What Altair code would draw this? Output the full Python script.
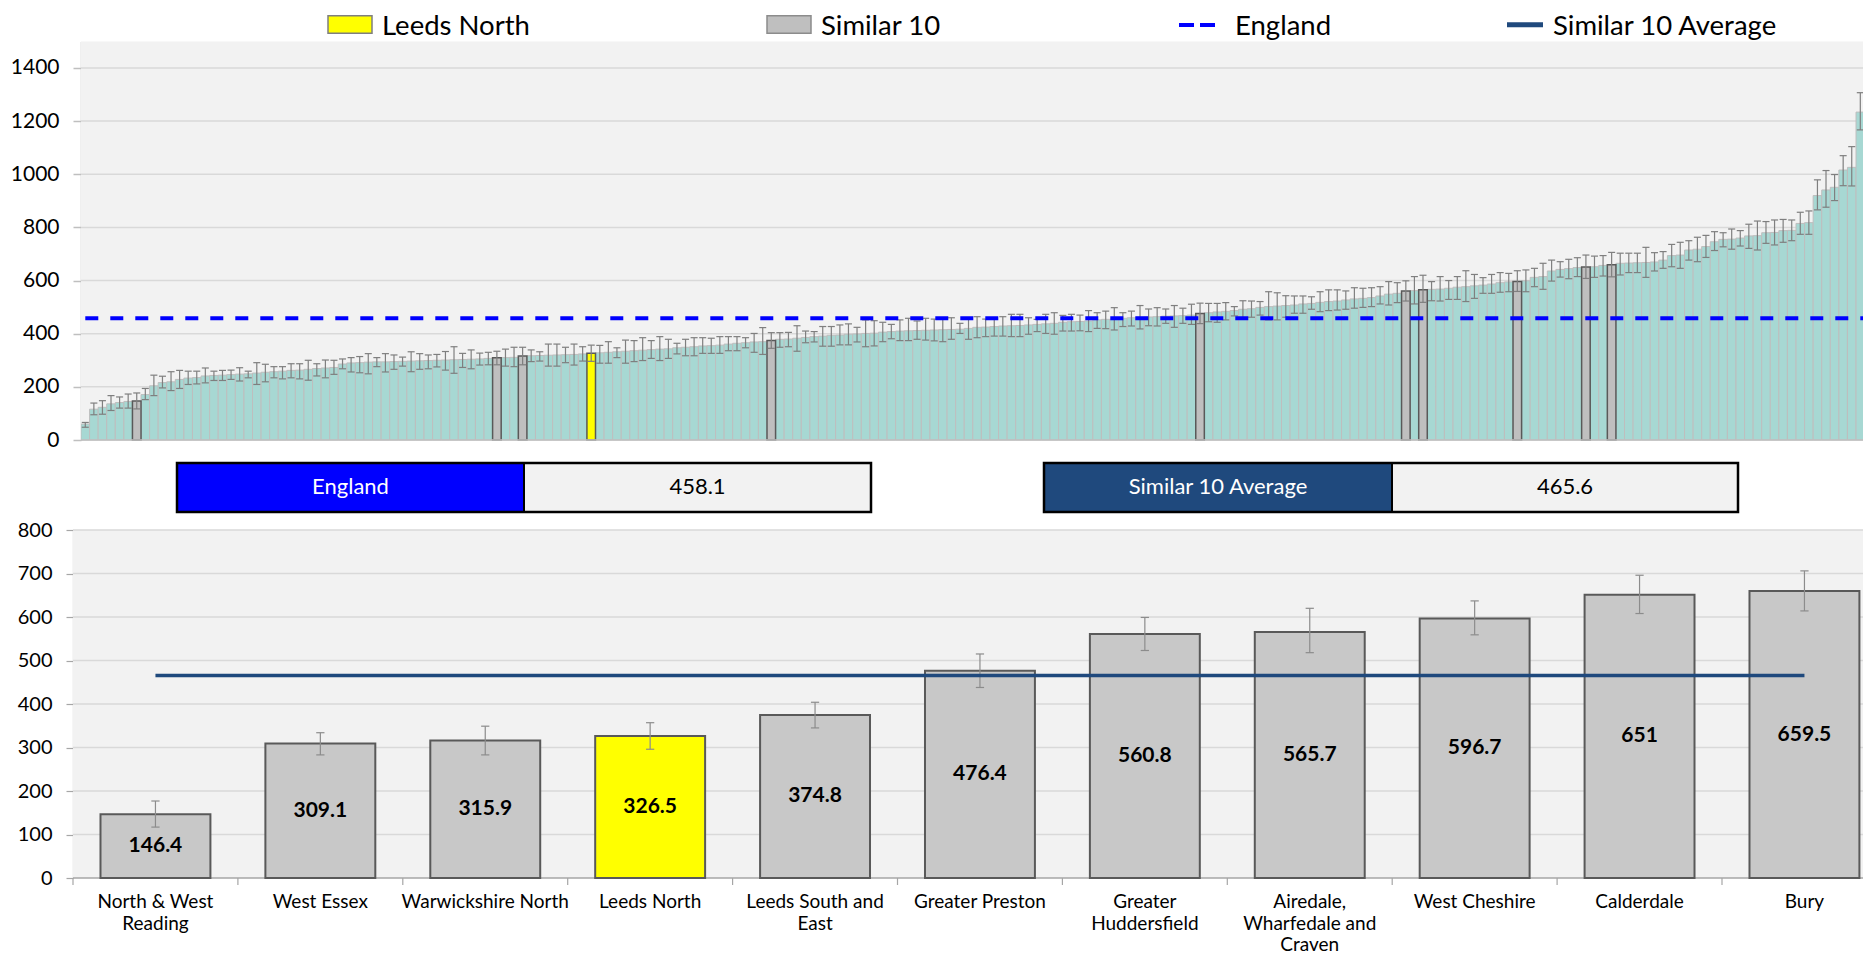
import textwrap
import altair as alt
import pandas as pd

# ------------------------------------------------------------------ data
# all CCGs, sorted ascending (rate per 100,000) with 95% CI
ccg_rates = [60, 116, 123, 136, 141, 145, 146.4, 171, 204, 216, 219, 228, 233, 235, 241, 243, 244, 246, 248, 249,
             252, 255, 257, 259, 262, 263, 266, 269, 271, 273, 286, 290, 291, 293, 294, 294, 295, 296, 297, 298,
             299, 300, 301, 302, 303, 304, 305, 307, 309.1, 310, 311, 315.9, 317, 318, 319, 320, 321, 322, 324, 326.5,
             328, 330, 332, 334, 336, 338, 340, 342, 343, 347, 349, 351, 354, 355, 357, 361, 364, 366, 369, 370,
             374.8, 379, 380, 383, 386, 389, 391, 394, 395, 398, 399, 401, 402, 406, 408, 410, 411, 412, 413, 414,
             415, 416, 417, 420, 424, 425, 427, 429, 430, 431, 433, 435, 437, 439, 443, 445, 446, 448, 452, 454,
             455, 458, 460, 462, 463, 464, 466, 467, 468, 470, 476.4, 479, 482, 484, 487, 492, 494, 499, 502, 504,
             506, 508, 512, 514, 518, 521, 523, 527, 531, 533, 536, 542, 549, 552, 560.8, 562, 565.7, 567, 568, 571,
             575, 577, 580, 583, 587, 592, 595, 596.7, 599, 612, 615, 636, 642, 645, 649, 651, 652, 657, 659.5, 665,
             666, 667, 668, 670, 677, 694, 696, 715, 718, 728, 746, 755, 756, 760, 768, 769, 780, 781, 788, 789,
             815, 818, 920, 941, 951, 1016, 1026, 1234, 1245]
ccg_lower = [48, 95, 97, 111, 120, 120, 117, 152, 167, 196, 186, 194, 209, 211, 215, 224, 224, 228, 222, 234,
             209, 219, 234, 230, 234, 230, 225, 241, 234, 247, 268, 256, 253, 249, 276, 256, 266, 278, 257, 266,
             268, 275, 263, 251, 273, 268, 282, 283, 283, 278, 276, 283, 295, 297, 278, 278, 291, 282, 297, 296,
             289, 289, 310, 289, 295, 299, 307, 299, 307, 324, 317, 317, 326, 326, 326, 336, 336, 347, 330, 322,
             345, 349, 351, 334, 366, 369, 353, 353, 358, 358, 369, 351, 354, 370, 381, 374, 374, 379, 376, 373,
             370, 379, 401, 379, 385, 389, 391, 391, 389, 389, 398, 408, 401, 398, 410, 410, 411, 408, 420, 419,
             414, 427, 429, 418, 430, 429, 439, 424, 439, 435, 438, 445, 443, 452, 467, 454, 462, 470, 452, 452,
             462, 477, 477, 492, 483, 487, 489, 492, 496, 499, 502, 512, 508, 517, 523, 512, 518, 524, 523, 529,
             529, 521, 533, 552, 552, 556, 558, 559, 558, 577, 567, 598, 613, 607, 615, 608, 612, 617, 614, 621,
             630, 630, 612, 636, 646, 652, 646, 677, 671, 687, 713, 727, 718, 730, 721, 715, 740, 734, 744, 750,
             774, 774, 866, 876, 901, 957, 956, 1167, 1207]
ccg_upper = [66, 139, 148, 167, 162, 173, 177, 194, 244, 240, 257, 262, 259, 259, 271, 259, 262, 263, 272, 259,
             291, 285, 276, 276, 287, 287, 300, 287, 301, 300, 305, 310, 314, 325, 310, 325, 320, 312, 332, 325,
             320, 322, 333, 351, 326, 339, 327, 330, 334, 342, 349, 349, 339, 332, 361, 361, 349, 361, 351, 357,
             356, 370, 347, 376, 374, 385, 374, 389, 379, 364, 379, 385, 385, 383, 389, 389, 389, 385, 401, 423,
             404, 404, 405, 430, 410, 408, 427, 427, 433, 437, 424, 452, 449, 443, 435, 452, 458, 448, 458, 455,
             455, 460, 439, 455, 464, 455, 460, 464, 473, 473, 460, 454, 473, 479, 469, 473, 470, 487, 479, 485,
             498, 479, 485, 506, 493, 498, 493, 506, 496, 511, 515, 514, 514, 517, 502, 524, 523, 521, 558, 554,
             543, 542, 542, 539, 558, 565, 565, 561, 573, 571, 573, 577, 596, 592, 599, 615, 620, 596, 615, 600,
             615, 637, 623, 611, 623, 630, 627, 637, 640, 646, 665, 677, 671, 680, 686, 696, 692, 694, 706, 703,
             703, 703, 725, 705, 709, 736, 744, 750, 763, 770, 784, 780, 794, 788, 812, 824, 822, 828, 830, 828,
             857, 862, 979, 1014, 999, 1070, 1104, 1307, 1282]

# the focus CCG and its 10 most similar CCGs
similar_names = ["North & West Reading", "West Essex", "Warwickshire North", "Leeds North",
                 "Leeds South and East", "Greater Preston", "Greater Huddersfield",
                 "Airedale, Wharfedale and Craven", "West Cheshire", "Calderdale", "Bury"]
similar_rates = [146.4, 309.1, 315.9, 326.5, 374.8, 476.4, 560.8, 565.7, 596.7, 651, 659.5]
similar_lower = [117, 283, 283, 296, 345, 438, 523, 518, 559, 608, 614]
similar_upper = [177, 334, 349, 357, 404, 515, 599, 620, 637, 696, 706]
focus_name = "Leeds North"
england_rate = 458.1
similar_average = 465.6

top_ticks = [0, 200, 400, 600, 800, 1000, 1200, 1400]
bottom_ticks = [0, 100, 200, 300, 400, 500, 600, 700, 800]

# ------------------------------------------------------------------ style / layout
FONT = "Lato"
W, H = 1782, 947                 # plot area (page x 81 .. 1863)
BAR_PX = 8.575                   # pixel width of one CCG bar
TOP_Y0, TOP_Y1 = 432, 33.4       # pixel rows of 0 and 1500
BOT_Y0, BOT_Y1 = 870, 522        # pixel rows of 0 and 800
CAT_PX = 164.9                   # width of one category in the lower chart
BOT_X0 = -8

TEAL, TEAL_EDGE = "#A7D8D3", "#BEBEBE"
SIM_FILL, EDGE = "#BFBFBF", "#595959"
YELLOW = "#FFFF00"
ERR = "#7F7F7F"
GRID = "#D9D9D9"
BG = "#F2F2F2"
BLUE = "#0000FF"
NAVY = "#1F497D"

n = len(ccg_rates)
ns = len(similar_names)
focus_rate = similar_rates[similar_names.index(focus_name)]


def role(v):
    if v == focus_rate:
        return "focus"
    if v in similar_rates:
        return "similar"
    return "other"


top_df = pd.DataFrame({"rank": range(n), "rate": ccg_rates, "lo": ccg_lower, "hi": ccg_upper})
top_df["role"] = top_df["rate"].map(role)

bot_df = pd.DataFrame({"k": range(ns), "name": similar_names, "rate": similar_rates,
                       "lo": similar_lower, "hi": similar_upper})
bot_df["label"] = bot_df["name"].map(lambda s: "\n".join(textwrap.wrap(s, 18)))
bot_df["role"] = bot_df["rate"].map(role)
bot_df["txt"] = bot_df["rate"].map(lambda v: f"{v:g}")

one = pd.DataFrame({"k": [0]})

top_x = alt.Scale(domain=[0, W / BAR_PX], nice=False, zero=False)
top_y = alt.Scale(domain=[0, 1500], range=[TOP_Y0, TOP_Y1], nice=False, zero=False)
bot_x = alt.Scale(domain=[0, ns], range=[BOT_X0, BOT_X0 + ns * CAT_PX], nice=False, zero=False)
bot_y = alt.Scale(domain=[0, 800], range=[BOT_Y0, BOT_Y1], nice=False, zero=False)


def px_rect(x0, x1, y0, y1, **kw):
    return alt.Chart(one).mark_rect(**kw).encode(
        x=alt.value(x0), x2=alt.value(x1), y=alt.value(y0), y2=alt.value(y1))


def px_rule(x0, x1, y0, y1, **kw):
    return alt.Chart(one).mark_rule(**kw).encode(
        x=alt.value(x0), x2=alt.value(x1), y=alt.value(y0), y2=alt.value(y1))


def px_text(x, y, s, **kw):
    return alt.Chart(one).mark_text(font=FONT, **kw).encode(
        x=alt.value(x), y=alt.value(y), text=alt.value(s))


layers = []

# ---------------- legend
LY = 27.2          # text baseline
LFS = 27.5
layers += [
    px_rect(247, 291, 7.7, 25.3, fill=YELLOW, stroke="#7F7F7F", strokeWidth=1.5),
    px_text(301, LY, focus_name, fontSize=LFS, align="left", baseline="alphabetic", color="black"),
    px_rect(686, 730, 7.7, 25.3, fill=SIM_FILL, stroke="#8C8C8C", strokeWidth=1.5),
    px_text(740, LY, "Similar 10", fontSize=LFS, align="left", baseline="alphabetic", color="black"),
    px_rule(1098, 1136, 17, 17, color=BLUE, strokeWidth=4, strokeDash=[15, 6]),
    px_text(1154, LY, "England", fontSize=LFS, align="left", baseline="alphabetic", color="black"),
    px_rule(1426, 1462, 16.8, 16.8, color=NAVY, strokeWidth=5),
    px_text(1472, LY, "Similar 10 Average", fontSize=LFS, align="left", baseline="alphabetic", color="black"),
]

# ---------------- top chart
layers.append(px_rect(0, W, TOP_Y1, TOP_Y0, fill=BG))
layers.append(
    alt.Chart(pd.DataFrame({"v": top_ticks[1:]})).mark_rule(color=GRID, strokeWidth=1.5).encode(
        y=alt.Y("v:Q", scale=top_y, axis=alt.Axis(
            orient="left", values=top_ticks, format="d", title=None, grid=False,
            domainColor="#BFBFBF", domainWidth=1.5, tickColor="#BFBFBF", tickWidth=1.5, tickSize=8,
            labelFont=FONT, labelFontSize=21, labelColor="black", labelPadding=14)),
        x=alt.value(0), x2=alt.value(W)))

tb = alt.Chart(top_df).transform_calculate(r1="datum.rank + 1", xc="datum.rank + 0.5")
layers.append(
    tb.transform_filter("datum.role == 'other'")
    .mark_rect(fill=TEAL, stroke=TEAL_EDGE, strokeWidth=1, clip=True)
    .encode(x=alt.X("rank:Q", scale=top_x, axis=None), x2="r1:Q",
            y=alt.Y("rate:Q", scale=top_y, axis=None), y2=alt.Y2(datum=0)))
layers.append(
    tb.transform_filter("datum.role == 'similar'")
    .mark_rect(fill=SIM_FILL, stroke=EDGE, strokeWidth=1.5, clip=True)
    .encode(x=alt.X("rank:Q", scale=top_x, axis=None), x2="r1:Q",
            y=alt.Y("rate:Q", scale=top_y, axis=None), y2=alt.Y2(datum=0)))
layers.append(
    tb.transform_filter("datum.role == 'focus'")
    .mark_rect(fill=YELLOW, stroke=EDGE, strokeWidth=1.5, clip=True)
    .encode(x=alt.X("rank:Q", scale=top_x, axis=None), x2="r1:Q",
            y=alt.Y("rate:Q", scale=top_y, axis=None), y2=alt.Y2(datum=0)))
layers.append(
    tb.mark_rule(color=ERR, strokeWidth=1.2, clip=True)
    .encode(x=alt.X("xc:Q", scale=top_x, axis=None),
            y=alt.Y("lo:Q", scale=top_y, axis=None), y2="hi:Q"))
layers.append(
    tb.transform_fold(["lo", "hi"], as_=["end", "val"])
    .transform_calculate(c0="datum.rank + 0.5 - 0.41", c1="datum.rank + 0.5 + 0.41")
    .mark_rule(color=ERR, strokeWidth=1.2, clip=True)
    .encode(x=alt.X("c0:Q", scale=top_x, axis=None), x2="c1:Q",
            y=alt.Y("val:Q", scale=top_y, axis=None)))
layers.append(px_rule(0, W, TOP_Y0, TOP_Y0, color="#BFBFBF", strokeWidth=1.5))
layers.append(
    alt.Chart(pd.DataFrame({"rate": [england_rate], "a": [0.5], "b": [n - 0.5]}))
    .mark_rule(color=BLUE, strokeWidth=4, strokeDash=[13, 12], clip=True)
    .encode(x=alt.X("a:Q", scale=top_x, axis=None), x2="b:Q",
            y=alt.Y("rate:Q", scale=top_y, axis=None)))


# ---------------- summary boxes
def summary_box(x0, xm, x1, title, value, color):
    y0, y1 = 455, 504
    yc = 479
    return [
        px_rect(x0, xm, y0, y1, fill=color),
        px_rect(xm, x1, y0, y1, fill=BG),
        px_rect(x0, x1, y0, y1, fill=None, stroke="black", strokeWidth=2.5),
        px_rule(xm, xm, y0, y1, color="black", strokeWidth=2),
        px_text((x0 + xm) / 2, yc, title, fontSize=22, align="center", baseline="middle", color="white"),
        px_text((xm + x1) / 2, yc, f"{value:g}", fontSize=22, align="center", baseline="middle", color="black"),
    ]


layers += summary_box(96, 443, 790, "England", england_rate, BLUE)
layers += summary_box(963, 1311, 1657, "Similar 10 Average", similar_average, NAVY)

# ---------------- lower chart
layers.append(px_rect(BOT_X0, W, BOT_Y1, BOT_Y0, fill=BG))
layers.append(
    alt.Chart(pd.DataFrame({"v": bottom_ticks[1:]})).mark_rule(color=GRID, strokeWidth=1.5).encode(
        y=alt.Y("v:Q", scale=bot_y, axis=alt.Axis(
            orient="left", offset=8, values=bottom_ticks, format="d", title=None, grid=False,
            domainColor="#A6A6A6", domainWidth=1.2, tickColor="#A6A6A6", tickWidth=1.2, tickSize=7,
            labelFont=FONT, labelFontSize=20, labelColor="black", labelPadding=14)),
        x=alt.value(BOT_X0), x2=alt.value(W)))
layers.append(px_rule(BOT_X0, W, BOT_Y0, BOT_Y0, color="#A6A6A6", strokeWidth=1.5))
layers.append(
    alt.Chart(pd.DataFrame({"k": range(ns + 1)})).mark_rule(color="#A6A6A6", strokeWidth=1.2)
    .encode(x=alt.X("k:Q", scale=bot_x, axis=None), y=alt.value(BOT_Y0), y2=alt.value(BOT_Y0 + 7)))

bb = alt.Chart(bot_df).transform_calculate(
    b0="datum.k + 0.1667", b1="datum.k + 0.8333", xc="datum.k + 0.5",
    c0="datum.k + 0.5 - 0.025", c1="datum.k + 0.5 + 0.025", mid="datum.rate / 2")
layers.append(
    bb.transform_filter("datum.role != 'focus'")
    .mark_rect(fill="#C8C8C8", stroke=EDGE, strokeWidth=2)
    .encode(x=alt.X("b0:Q", scale=bot_x, axis=None), x2="b1:Q",
            y=alt.Y("rate:Q", scale=bot_y, axis=None), y2=alt.Y2(datum=0)))
layers.append(
    bb.transform_filter("datum.role == 'focus'")
    .mark_rect(fill=YELLOW, stroke=EDGE, strokeWidth=2)
    .encode(x=alt.X("b0:Q", scale=bot_x, axis=None), x2="b1:Q",
            y=alt.Y("rate:Q", scale=bot_y, axis=None), y2=alt.Y2(datum=0)))
layers.append(
    bb.mark_rule(color="#8C8C8C", strokeWidth=1.2)
    .encode(x=alt.X("xc:Q", scale=bot_x, axis=None),
            y=alt.Y("lo:Q", scale=bot_y, axis=None), y2="hi:Q"))
layers.append(
    bb.transform_fold(["lo", "hi"], as_=["end", "val"])
    .mark_rule(color="#8C8C8C", strokeWidth=1.2)
    .encode(x=alt.X("c0:Q", scale=bot_x, axis=None), x2="c1:Q",
            y=alt.Y("val:Q", scale=bot_y, axis=None)))
layers.append(
    bb.mark_text(font=FONT, fontSize=21, fontWeight="bold", color="black", baseline="middle")
    .encode(x=alt.X("xc:Q", scale=bot_x, axis=None),
            y=alt.Y("mid:Q", scale=bot_y, axis=None), text="txt:N"))
layers.append(
    alt.Chart(pd.DataFrame({"rate": [similar_average], "a": [0.5], "b": [ns - 0.5]}))
    .mark_rule(color=NAVY, strokeWidth=3.5)
    .encode(x=alt.X("a:Q", scale=bot_x, axis=None), x2="b:Q",
            y=alt.Y("rate:Q", scale=bot_y, axis=None)))
layers.append(
    bb.mark_text(font=FONT, fontSize=19, color="black", baseline="top", lineBreak="\n", lineHeight=21.5)
    .encode(x=alt.X("xc:Q", scale=bot_x, axis=None), y=alt.value(885), text="label:N"))

chart = (
    alt.layer(*layers)
    .resolve_scale(x="independent", y="independent")
    .properties(width=W, height=H,
                autosize=alt.AutoSizeParams(type="none"),
                padding={"left": 73, "top": 0, "right": 0, "bottom": 0},
                background="white")
    .configure_view(stroke=None)
)

chart.save("out.html", embed_options={"renderer": "svg", "actions": False})
